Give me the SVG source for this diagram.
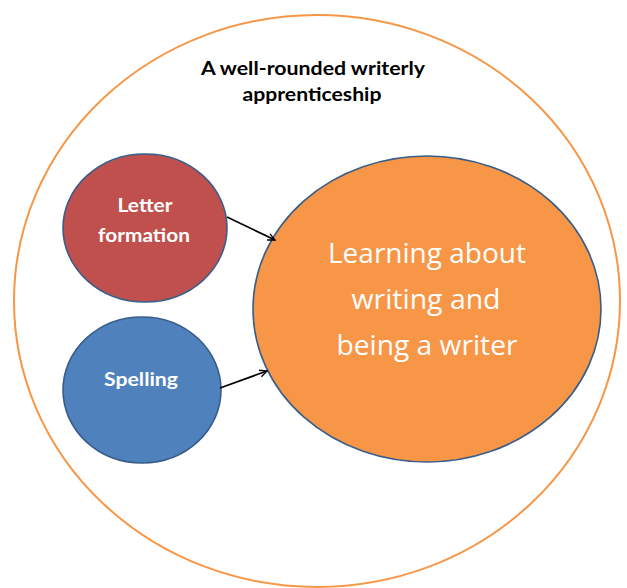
<svg xmlns="http://www.w3.org/2000/svg" width="627" height="588" viewBox="0 0 627 588">
  <defs>
    <marker id="open-arrow" viewBox="0 0 10 10" refX="9" refY="5" markerWidth="9" markerHeight="9" orient="auto" markerUnits="userSpaceOnUse">
      <path d="M1,1.2 L9,5 L1,8.8" fill="none" stroke="#000" stroke-width="1.5"/>
    </marker>
    <style>
      .node { stroke: #385D8A; stroke-width: 1.6; }
      .label { font-family: Lato, "Open Sans", "Liberation Sans", sans-serif; font-weight: bold; fill: #fff; text-anchor: middle; font-size: 18px; }
      .title { font-family: Lato, "Open Sans", "Liberation Sans", sans-serif; font-weight: bold; fill: #000; text-anchor: middle; font-size: 19px; }
      .main { font-family: "Open Sans", Lato, "Liberation Sans", sans-serif; fill: #fff; text-anchor: middle; font-size: 27px; }
      .link { stroke: #000; stroke-width: 1.7; fill: none; marker-end: url(#open-arrow); }
    </style>
  </defs>
  <rect width="627" height="588" fill="#fff"/>

  <g id="apprenticeship">
    <ellipse cx="317" cy="301" rx="303" ry="286" fill="none" stroke="#F79646" stroke-width="2"/>
    <text class="title" x="313" y="75" textLength="224" lengthAdjust="spacingAndGlyphs">A well-rounded writerly</text>
    <text class="title" x="312" y="101" textLength="139" lengthAdjust="spacingAndGlyphs">apprenticeship</text>
  </g>

  <g id="letter-formation">
    <ellipse class="node" cx="145" cy="228" rx="82" ry="74" fill="#C0504D"/>
    <text class="label" x="145" y="212" textLength="55" lengthAdjust="spacingAndGlyphs">Letter</text>
    <text class="label" x="144" y="242" textLength="92" lengthAdjust="spacingAndGlyphs">formation</text>
  </g>

  <g id="spelling">
    <ellipse class="node" cx="142" cy="390" rx="79" ry="73" fill="#4F81BD"/>
    <text class="label" x="141" y="386" textLength="74" lengthAdjust="spacingAndGlyphs">Spelling</text>
  </g>

  <g id="learning">
    <ellipse class="node" cx="427" cy="309" rx="174" ry="153" fill="#F79646"/>
    <text class="main" x="427" y="263" textLength="198" lengthAdjust="spacingAndGlyphs">Learning about</text>
    <text class="main" x="426" y="309" textLength="149" lengthAdjust="spacingAndGlyphs">writing and</text>
    <text class="main" x="427" y="355" textLength="181" lengthAdjust="spacingAndGlyphs">being a writer</text>
  </g>

  <g id="connectors">
    <line class="link" x1="227" y1="217" x2="275" y2="240"/>
    <line class="link" x1="220" y1="388" x2="267" y2="371"/>
  </g>
</svg>
